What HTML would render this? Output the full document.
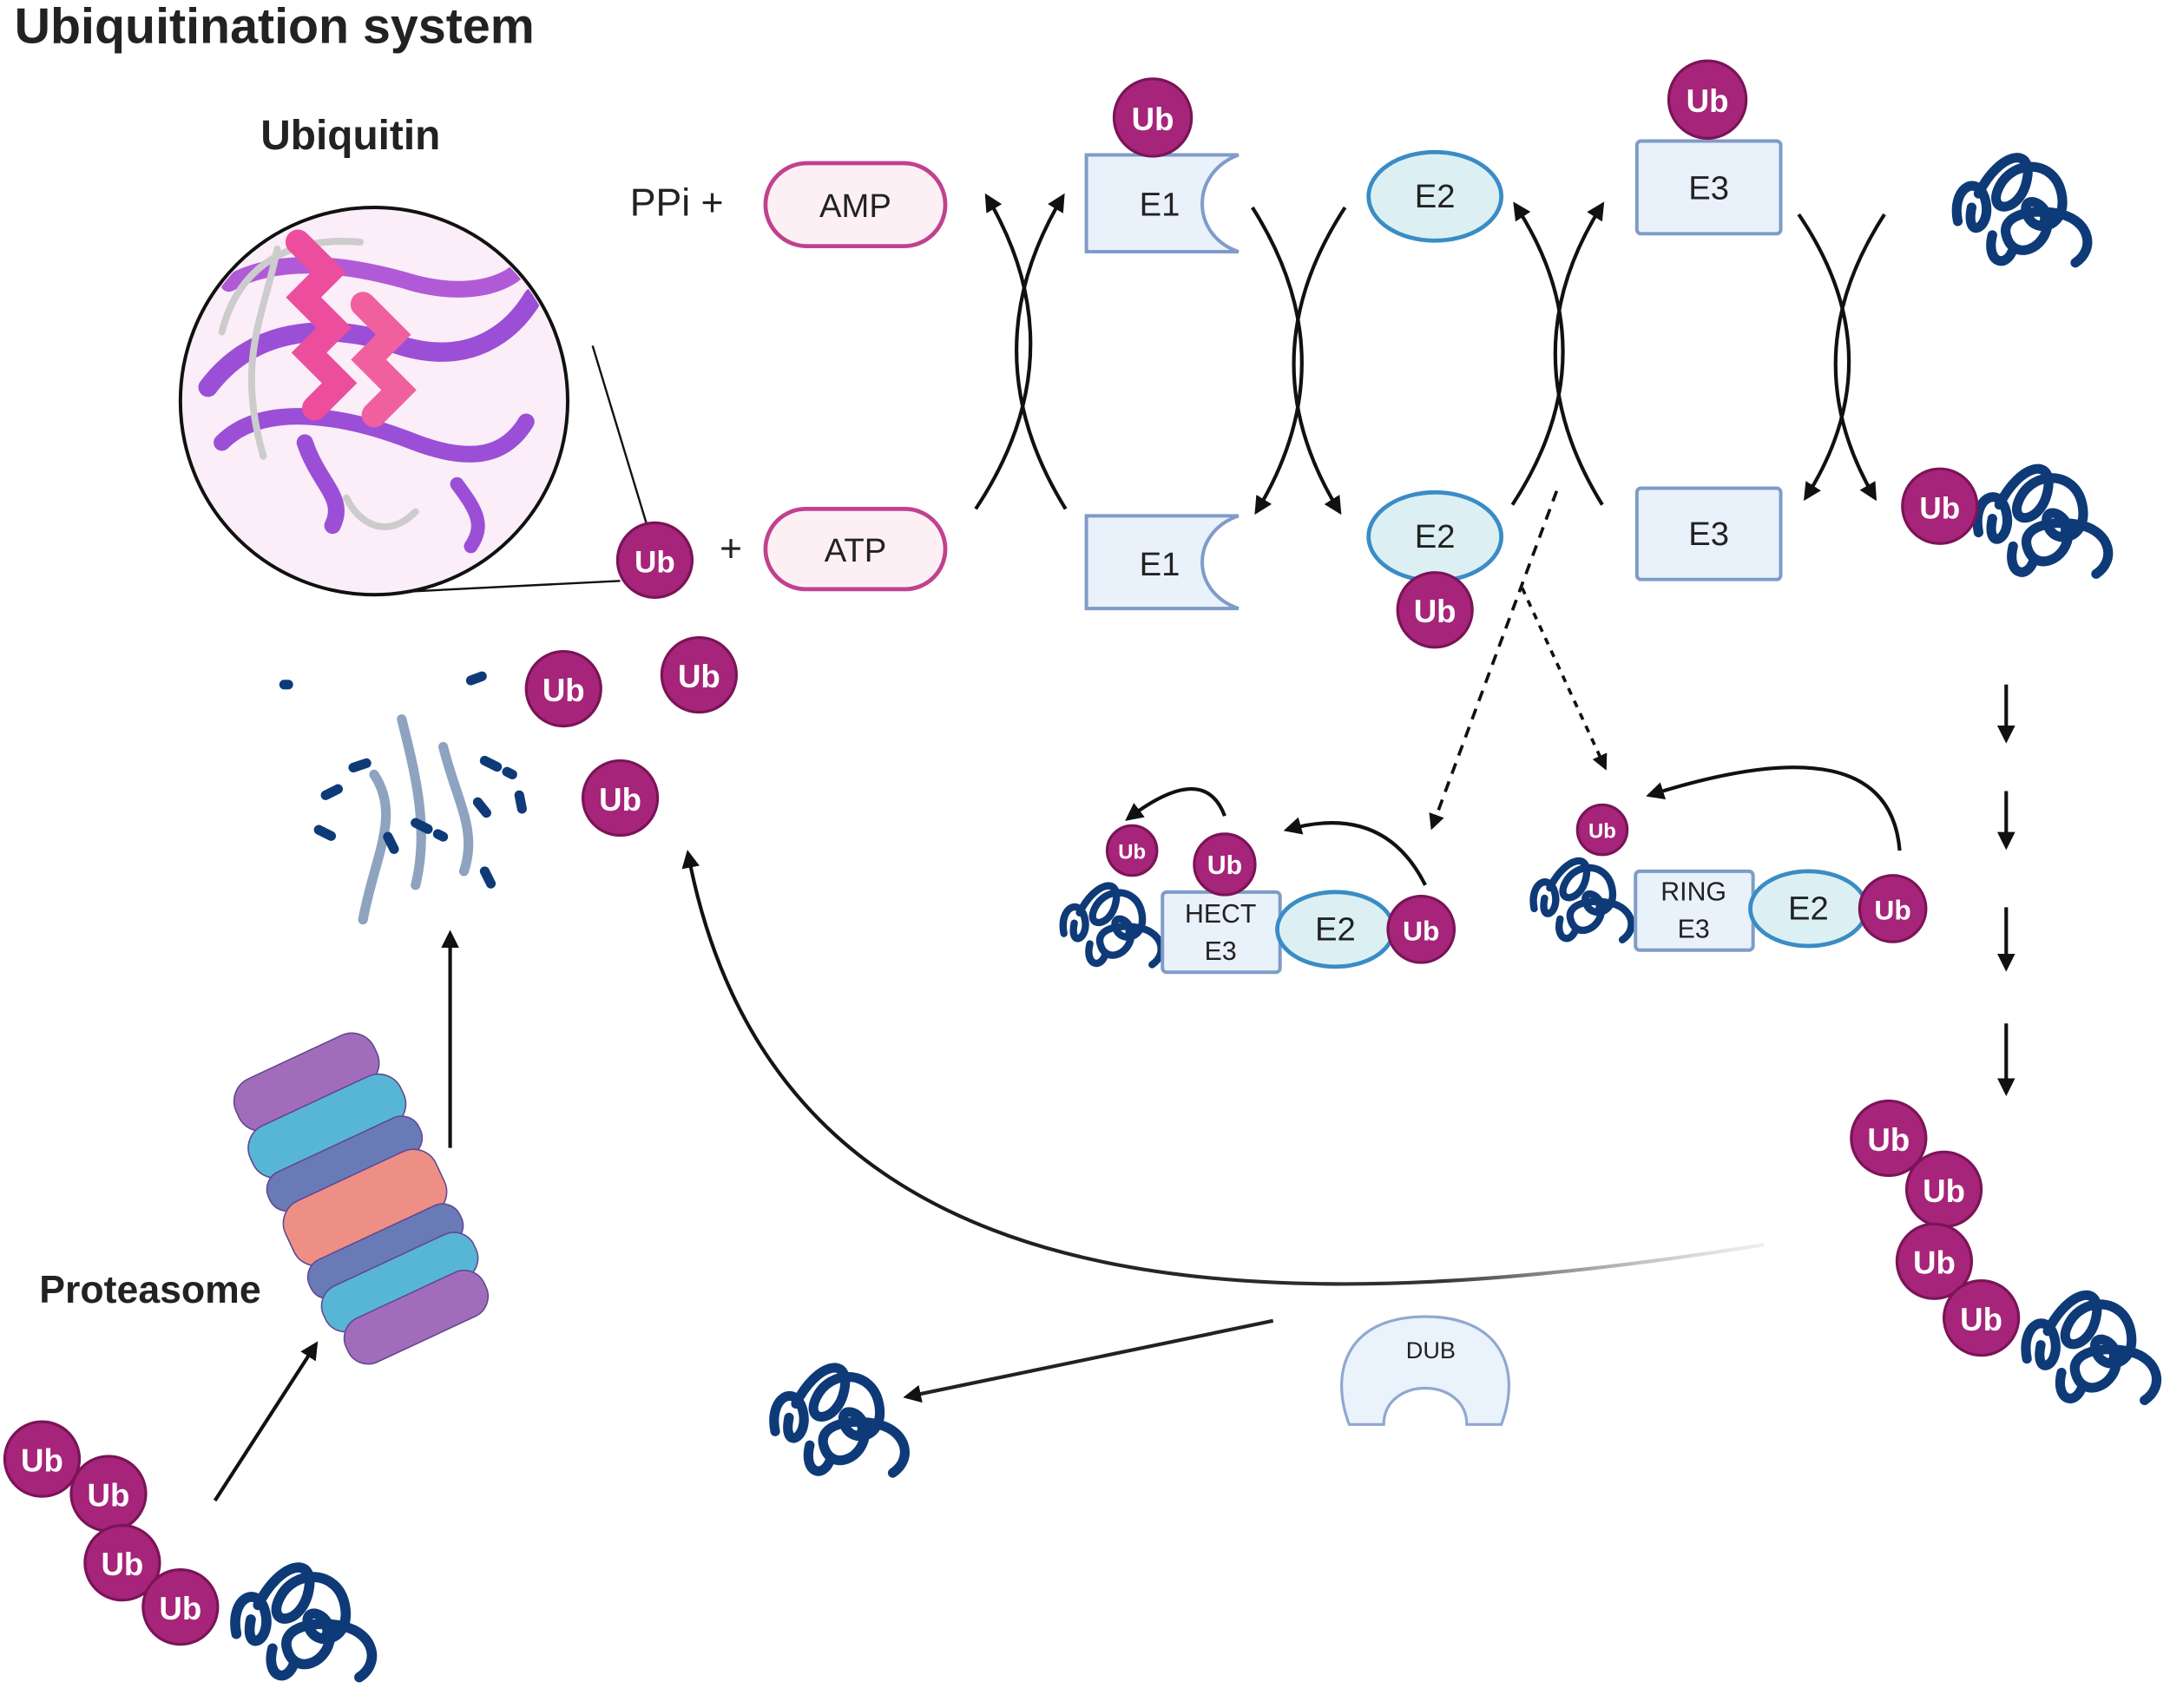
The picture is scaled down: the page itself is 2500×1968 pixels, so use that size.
<!DOCTYPE html>
<html><head><meta charset="utf-8">
<style>
html,body{margin:0;padding:0;background:#fff;}
svg{display:block;}
text{font-family:"Liberation Sans",sans-serif;}
.ub circle{fill:#a62479;stroke:#7a1457;stroke-width:2}
.ub text{fill:#fff;font-weight:bold;text-anchor:middle;}
.e{fill:#e9f1fb;stroke:#7f9cc8;stroke-width:2.5}
.e2{fill:#dcf0f3;stroke:#3a8cc6;stroke-width:3}
.lbl{font-size:24px;fill:#222;text-anchor:middle}
.arr{fill:none;stroke:#111;stroke-width:2.6;marker-end:url(#ah)}
.prot{fill:none;stroke:#0e3a78;stroke-width:7;stroke-linecap:round}
</style></head>
<body>
<svg width="2500" height="1968" viewBox="0 0 1568 1235" xmlns="http://www.w3.org/2000/svg">
<defs>
<marker id="ah" viewBox="0 0 10 10" refX="8" refY="5" markerWidth="5" markerHeight="5" orient="auto"><path d="M0,0 L10,5 L0,10 z" fill="#111"/></marker>
<linearGradient id="fadeR" x1="0" x2="1" y1="0" y2="0"><stop offset="0" stop-color="#111"/><stop offset="0.7" stop-color="#333"/><stop offset="1" stop-color="#ccc" stop-opacity="0.3"/></linearGradient>
<clipPath id="cc"><circle cx="270" cy="290" r="138"/></clipPath>
<symbol id="prot" viewBox="-55 -50 110 100" overflow="visible">
<path class="prot" d="M-45,10 C-50,-15 -30,-25 -25,-5 C-20,15 -40,25 -35,0 M-30,-10 C-15,-40 10,-45 5,-20 C0,5 -25,5 -15,-15 C-5,-35 25,-35 30,-10 C35,15 10,20 5,5 C0,-10 20,-5 20,10 C20,30 -5,40 -10,20 C-14,5 10,0 30,5 C50,10 55,30 40,40 M-20,20 C-25,40 -10,45 -5,30"/>
<circle cx="12" cy="8" r="5" fill="none" stroke="#0e3a78" stroke-width="5"/>
</symbol>
</defs>

<text x="10" y="31" font-size="36" font-weight="bold" fill="#222">Ubiquitination system</text>
<text x="188" y="108" font-size="30" font-weight="bold" fill="#222">Ubiquitin</text>

<circle cx="270" cy="290" r="140" fill="#fbeef8" stroke="#111" stroke-width="2.5"/>
<g fill="none" stroke-linecap="round" clip-path="url(#cc)">
<path d="M150,280 C180,240 230,230 290,250 C340,265 370,240 385,215" stroke="#9b4fd6" stroke-width="14"/>
<path d="M160,320 C190,290 250,300 300,320 C340,335 365,330 380,305" stroke="#9b4fd6" stroke-width="12"/>
<path d="M165,205 C200,185 250,190 300,205 C340,215 365,205 375,195" stroke="#b05ad8" stroke-width="12"/>
<path d="M220,320 C230,350 250,360 240,380" stroke="#9b4fd6" stroke-width="12"/>
<path d="M330,350 C345,370 350,380 340,395" stroke="#9b4fd6" stroke-width="10"/>
<path d="M200,180 C190,230 170,260 190,330 M300,370 C280,390 260,380 250,360 M160,240 C170,200 200,170 260,175" stroke="#ccc" stroke-width="5"/>
<path d="M215,175 l22,22 l-18,18 l22,22 l-18,18 l22,22 l-18,18" stroke="#ec4d9c" stroke-width="18"/>
<path d="M262,220 l22,22 l-18,18 l22,22 l-18,18" stroke="#f0609f" stroke-width="18"/>
</g>
<line x1="428" y1="250" x2="468" y2="382" stroke="#111" stroke-width="1.5"/>
<line x1="290" y1="428" x2="448" y2="420" stroke="#111" stroke-width="1.5"/>

<g class="ub"><circle cx="473" cy="405" r="27"/><text x="473" y="414" font-size="22">Ub</text></g>
<text x="528" y="406" font-size="28" text-anchor="middle" fill="#222">+</text>
<rect x="553" y="368" width="130" height="58" rx="29" fill="#fdf0f5" stroke="#c0428f" stroke-width="3"/>
<text x="618" y="406" font-size="24" text-anchor="middle" fill="#222">ATP</text>
<text x="455" y="156" font-size="28" fill="#222">PPi +</text>
<rect x="553" y="118" width="130" height="60" rx="30" fill="#fdf0f5" stroke="#c0428f" stroke-width="3"/>
<text x="618" y="157" font-size="24" text-anchor="middle" fill="#222">AMP</text>

<path class="e" d="M785,112 H895 C860,125 860,170 895,182 H785 Z"/>
<text class="lbl" x="838" y="156">E1</text>
<g class="ub"><circle cx="833" cy="85" r="28"/><text x="833" y="94" font-size="23">Ub</text></g>
<path class="e" d="M785,373 H895 C860,385 860,428 895,440 H785 Z"/>
<text class="lbl" x="838" y="416">E1</text>

<ellipse class="e2" cx="1037" cy="142" rx="48" ry="32"/>
<text class="lbl" x="1037" y="150">E2</text>
<ellipse class="e2" cx="1037" cy="388" rx="48" ry="32"/>
<text class="lbl" x="1037" y="396">E2</text>
<g class="ub"><circle cx="1037" cy="441" r="27"/><text x="1037" y="450" font-size="23">Ub</text></g>

<rect x="1183" y="102" width="104" height="67" rx="3" class="e"/>
<text class="lbl" x="1235" y="144">E3</text>
<g class="ub"><circle cx="1234" cy="72" r="28"/><text x="1234" y="81" font-size="23">Ub</text></g>
<rect x="1183" y="353" width="104" height="66" rx="3" class="e"/>
<text class="lbl" x="1235" y="394">E3</text>

<use href="#prot" x="1405" y="100" width="110" height="100"/>
<use href="#prot" x="1420" y="325" width="110" height="100"/>
<g class="ub"><circle cx="1402" cy="366" r="27"/><text x="1402" y="375" font-size="22">Ub</text></g>

<!-- facing arcs )( -->
<path class="arr" d="M705,368 Q780,255 713,142"/>
<path class="arr" d="M770,368 Q700,255 768,142"/>
<path class="arr" d="M905,150 Q975,260 908,370"/>
<path class="arr" d="M972,150 Q900,260 968,370"/>
<path class="arr" d="M1093,365 Q1165,255 1095,148"/>
<path class="arr" d="M1158,365 Q1090,255 1158,148"/>
<path class="arr" d="M1300,155 Q1370,258 1305,360"/>
<path class="arr" d="M1362,155 Q1295,258 1355,360"/>

<path d="M1125,355 L1035,598" fill="none" stroke="#111" stroke-width="2.3" stroke-dasharray="8,6" marker-end="url(#ah)"/>
<path d="M1100,425 L1160,555" fill="none" stroke="#111" stroke-width="2.3" stroke-dasharray="5,5" marker-end="url(#ah)"/>

<use href="#prot" x="760" y="630" width="85" height="75"/>
<rect x="840" y="645" width="85" height="58" rx="3" class="e"/>
<text x="882" y="667" font-size="19" text-anchor="middle" fill="#222">HECT</text>
<text x="882" y="694" font-size="19" text-anchor="middle" fill="#222">E3</text>
<ellipse class="e2" cx="965" cy="672" rx="42" ry="27"/>
<text class="lbl" x="965" y="680">E2</text>
<g class="ub"><circle cx="1027" cy="672" r="24"/><text x="1027" y="680" font-size="20">Ub</text></g>
<g class="ub"><circle cx="885" cy="625" r="22"/><text x="885" y="632" font-size="19">Ub</text></g>
<g class="ub"><circle cx="818" cy="615" r="18"/><text x="818" y="621" font-size="15">Ub</text></g>
<path class="arr" d="M1030,640 Q1000,580 930,600"/>
<path class="arr" d="M885,590 Q870,550 815,592"/>

<use href="#prot" x="1100" y="612" width="85" height="75"/>
<rect x="1182" y="630" width="85" height="57" rx="3" class="e"/>
<text x="1224" y="651" font-size="19" text-anchor="middle" fill="#222">RING</text>
<text x="1224" y="678" font-size="19" text-anchor="middle" fill="#222">E3</text>
<ellipse class="e2" cx="1307" cy="657" rx="42" ry="27"/>
<text class="lbl" x="1307" y="665">E2</text>
<g class="ub"><circle cx="1368" cy="657" r="24"/><text x="1368" y="665" font-size="20">Ub</text></g>
<g class="ub"><circle cx="1158" cy="600" r="18"/><text x="1158" y="606" font-size="15">Ub</text></g>
<path class="arr" d="M1373,615 Q1365,520 1192,575"/>

<path class="arr" d="M1450,495 V535"/>
<path class="arr" d="M1450,572 V612"/>
<path class="arr" d="M1450,656 V700"/>
<path class="arr" d="M1450,740 V790"/>

<use href="#prot" x="1455" y="915" width="110" height="115"/>
<g class="ub"><circle cx="1365" cy="823" r="27"/><text x="1365" y="832" font-size="23">Ub</text></g>
<g class="ub"><circle cx="1405" cy="860" r="27"/><text x="1405" y="869" font-size="23">Ub</text></g>
<g class="ub"><circle cx="1398" cy="912" r="27"/><text x="1398" y="921" font-size="23">Ub</text></g>
<g class="ub"><circle cx="1432" cy="953" r="27"/><text x="1432" y="962" font-size="23">Ub</text></g>

<path d="M1275,900 C900,960 560,950 497,617" fill="none" stroke="url(#fadeR)" stroke-width="2.6" marker-end="url(#ah)"/>
<path d="M920,955 L655,1010" fill="none" stroke="#222" stroke-width="2.6" marker-end="url(#ah)"/>
<path d="M975,1030 C960,990 975,952 1030,952 C1085,952 1100,990 1085,1030 H1060 C1060,995 1000,995 1000,1030 Z" fill="#eaf2fb" stroke="#8fa8d0" stroke-width="2"/>
<text x="1034" y="982" font-size="17" text-anchor="middle" fill="#222">DUB</text>
<use href="#prot" x="550" y="965" width="110" height="120"/>

<g fill="none" stroke-linecap="round">
<path d="M290,520 C300,560 310,600 300,640 M320,540 C330,580 345,600 335,630 M270,560 C290,590 270,620 262,665" stroke="#8ea3c0" stroke-width="7"/>
<path d="M235,575 l10,-5 M255,555 l15,-5 M350,550 l20,10 M375,575 l3,15 M300,595 l20,10 M280,605 l5,10 M345,580 l8,10 M230,600 l10,5 M350,630 l5,10 M205,495 l3,0 M340,492 l8,-3" stroke="#0e3a78" stroke-width="7" stroke-dasharray="10,8"/>
</g>
<g class="ub"><circle cx="407" cy="498" r="27"/><text x="407" y="507" font-size="23">Ub</text></g>
<g class="ub"><circle cx="505" cy="488" r="27"/><text x="505" y="497" font-size="23">Ub</text></g>
<g class="ub"><circle cx="448" cy="577" r="27"/><text x="448" y="586" font-size="23">Ub</text></g>

<g transform="translate(255,855) rotate(-25)">
<g stroke="#5a3f8c" stroke-width="1" opacity="0.95">
<rect x="-55" y="-100" width="110" height="40" rx="18" fill="#9c66b8"/>
<rect x="-60" y="-65" width="120" height="40" rx="18" fill="#4fb3d3"/>
<rect x="-60" y="-30" width="120" height="30" rx="14" fill="#6274b3"/>
<rect x="-60" y="-5" width="120" height="50" rx="18" fill="#ee8a80"/>
<rect x="-60" y="40" width="120" height="30" rx="14" fill="#6274b3"/>
<rect x="-60" y="62" width="120" height="35" rx="16" fill="#4fb3d3"/>
<rect x="-55" y="90" width="110" height="35" rx="16" fill="#9c66b8"/>
</g>
</g>
<path class="arr" d="M325,830 V675"/>
<text x="28" y="942" font-size="28" font-weight="bold" fill="#222">Proteasome</text>
<path class="arr" d="M155,1085 L228,972"/>

<use href="#prot" x="160" y="1112" width="115" height="118"/>
<g class="ub"><circle cx="30" cy="1055" r="27"/><text x="30" y="1064" font-size="23">Ub</text></g>
<g class="ub"><circle cx="78" cy="1080" r="27"/><text x="78" y="1089" font-size="23">Ub</text></g>
<g class="ub"><circle cx="88" cy="1130" r="27"/><text x="88" y="1139" font-size="23">Ub</text></g>
<g class="ub"><circle cx="130" cy="1162" r="27"/><text x="130" y="1171" font-size="23">Ub</text></g>
</svg>
</body></html>
